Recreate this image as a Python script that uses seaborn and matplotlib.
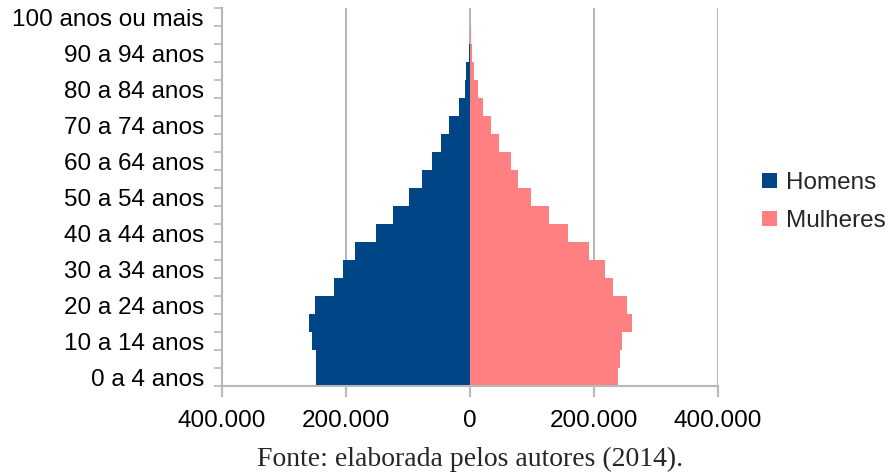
import numpy as np
import pandas as pd
import matplotlib
matplotlib.use("Agg")
import matplotlib.pyplot as plt
import seaborn as sns
from matplotlib.patches import Patch
from matplotlib.ticker import FuncFormatter, FixedLocator

# Age groups (bottom to top)
age_groups = ["0 a 4 anos", "5 a 9 anos", "10 a 14 anos", "15 a 19 anos", "20 a 24 anos",
              "25 a 29 anos", "30 a 34 anos", "35 a 39 anos", "40 a 44 anos", "45 a 49 anos",
              "50 a 54 anos", "55 a 59 anos", "60 a 64 anos", "65 a 69 anos", "70 a 74 anos",
              "75 a 79 anos", "80 a 84 anos", "85 a 89 anos", "90 a 94 anos", "95 a 99 anos",
              "100 anos ou mais"]
homens = [247900, 248400, 254300, 260200, 250000, 219900, 204300, 186000, 151600, 123700,
          99000, 77400, 62000, 46300, 33400, 18400, 8700, 6000, 2300, 700, 200]
mulheres = [238700, 241900, 245200, 260700, 253700, 230000, 217200, 192500, 158000, 126800,
            98900, 77400, 65500, 46200, 34400, 21500, 12300, 7000, 3000, 1500, 800]
series_names = ["Homens", "Mulheres"]
colors = ["#004586", "#ff8080"]
x_ticks = [-400000, -200000, 0, 200000, 400000]
caption = "Fonte: elaborada pelos autores (2014)."

order = age_groups[::-1]  # top to bottom
df = pd.DataFrame({
    "idade": age_groups * 2,
    "valor": [-v for v in homens] + list(mulheres),
    "sexo": [series_names[0]] * len(age_groups) + [series_names[1]] * len(age_groups),
})

sns.set_style("white")
plt.rcParams["font.family"] = ["Liberation Sans", "DejaVu Sans"]

fig = plt.figure(figsize=(8.91, 4.74), dpi=100)
ax = fig.add_axes([222 / 891, 1 - 386 / 474, (718 - 222) / 891, (386 - 8) / 474])

sns.barplot(data=df, y="idade", x="valor", hue="sexo", order=order,
            hue_order=series_names, palette=colors, dodge=False, width=1.0,
            orient="h", ax=ax, legend=False, saturation=1, linewidth=0)

ax.set_xlim(-400000, 400000)
ax.set_ylim(len(order) - 0.5, -0.5)
ax.set_xlabel("")
ax.set_ylabel("")

grid_c = "#b8b8b8"
ax.xaxis.set_major_locator(FixedLocator(x_ticks))
ax.xaxis.set_major_formatter(FuncFormatter(lambda v, p: f"{abs(int(v)):,}".replace(",", ".")))
for xv in x_ticks[1:]:
    ax.axvline(xv, color=grid_c, lw=1.5, zorder=0)
ax.set_axisbelow(True)

# y ticks: labels on every other group, tick marks at boundaries
lab_pos = list(range(0, len(order), 2))
ax.set_yticks(lab_pos)
ax.set_yticklabels([order[i] for i in lab_pos])
ax.set_yticks(np.arange(-0.5, len(order) + 0.5, 1), minor=True)
ax.tick_params(axis="y", which="major", length=0, pad=13, labelsize=17.5, colors="black")
ax.tick_params(axis="y", which="minor", length=6, width=1.2, color=grid_c, left=True)
ax.tick_params(axis="x", which="major", length=8, width=1.5, color=grid_c, pad=9,
               labelsize=17.5, labelcolor="black", bottom=True)

for s in ["top", "right"]:
    ax.spines[s].set_visible(False)
for s in ["left", "bottom"]:
    ax.spines[s].set_color(grid_c)
    ax.spines[s].set_linewidth(1.5)

handles = [Patch(facecolor=c, edgecolor="none") for c in colors]
fig.legend(handles, series_names, loc="center left", bbox_to_anchor=(762 / 891, 1 - 202 / 474),
           frameon=False, fontsize=17.5, handlelength=0.6, handleheight=0.6,
           handletextpad=0.4, labelspacing=0.65, borderaxespad=0, borderpad=0)

fig.text(470 / 891, 1 - 459 / 474, caption, ha="center", va="center",
         fontsize=20, family=["Liberation Serif", "DejaVu Serif"])

fig.savefig("out.png", dpi=100)
